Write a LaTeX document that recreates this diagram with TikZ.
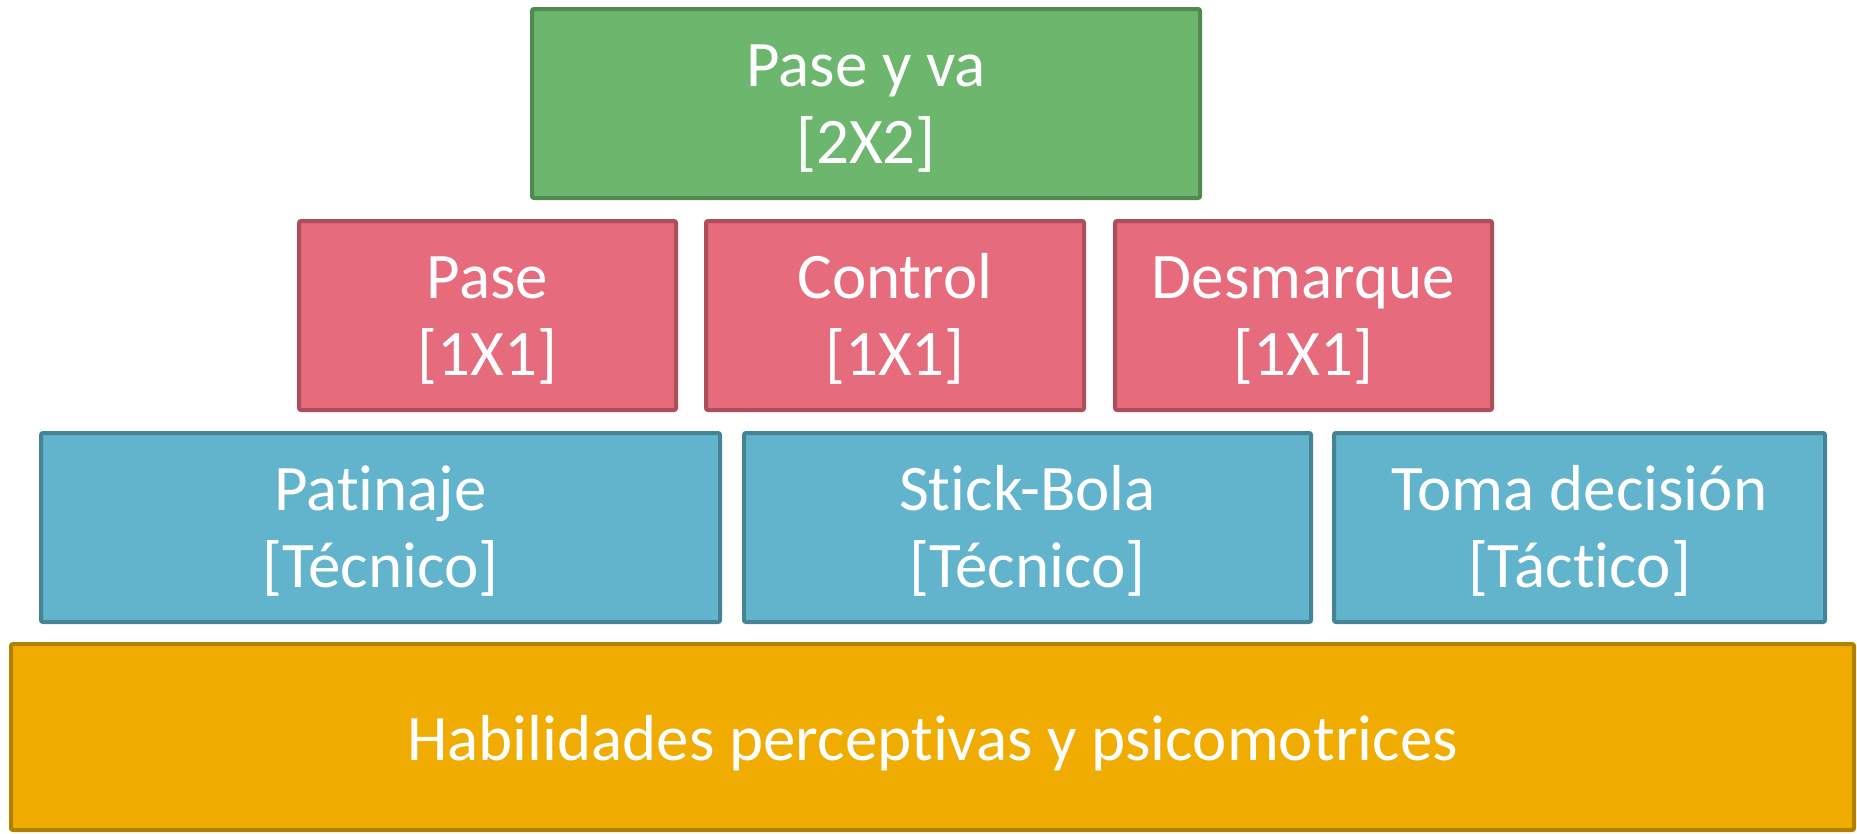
\documentclass[tikz,border=0pt]{standalone}
\usepackage{fontspec}
\setmainfont[Ligatures=NoCommon]{Carlito}
\definecolor{gfill}{RGB}{108,182,110}
\definecolor{gdraw}{RGB}{80,138,80}
\definecolor{rfill}{RGB}{230,107,124}
\definecolor{rdraw}{RGB}{172,78,92}
\definecolor{bfill}{RGB}{98,179,204}
\definecolor{bdraw}{RGB}{68,132,150}
\definecolor{ofill}{RGB}{240,172,0}
\definecolor{odraw}{RGB}{178,128,0}
\tikzset{
  blk/.style={rectangle, line width=4pt, rounded corners=2pt, inner sep=0pt,
    text=white, align=center, font=\fontsize{65}{77}\selectfont,
    minimum height=189pt, text height=119pt, text depth=0pt},
  gblk/.style={blk, fill=gfill, draw=gdraw},
  rblk/.style={blk, fill=rfill, draw=rdraw},
  bblk/.style={blk, fill=bfill, draw=bdraw},
  oblk/.style={blk, fill=ofill, draw=odraw, text height=47pt, text depth=0pt},
}
\begin{document}
\begin{tikzpicture}[x=1pt,y=-1pt]
\useasboundingbox (0,0) rectangle (1857,833);
\node[gblk, minimum width=668pt] (top) at (866,103.5) {Pase y va\\{}[2X2]};
\node[rblk, minimum width=377pt] (pase) at (487.5,315.5) {Pase\\{}[1X1]};
\node[rblk, minimum width=378pt] (control) at (895,315.5) {Control\\{}[1X1]};
\node[rblk, minimum width=377pt] (desm) at (1303.5,315.5) {Desmarque\\{}[1X1]};
\node[bblk, minimum width=679pt] (pat) at (380.5,527.5) {Patinaje\\{}[Técnico]};
\node[bblk, minimum width=567pt] (stick) at (1027.5,527.5) {Stick-Bola\\{}[Técnico]};
\node[bblk, minimum width=491pt] (toma) at (1579.5,527.5) {Toma decisión\\{}[Táctico]};
\node[oblk, minimum width=1843pt, minimum height=186pt] (hab) at (932.5,737) {Habilidades perceptivas y psicomotrices};
\end{tikzpicture}
\end{document}
